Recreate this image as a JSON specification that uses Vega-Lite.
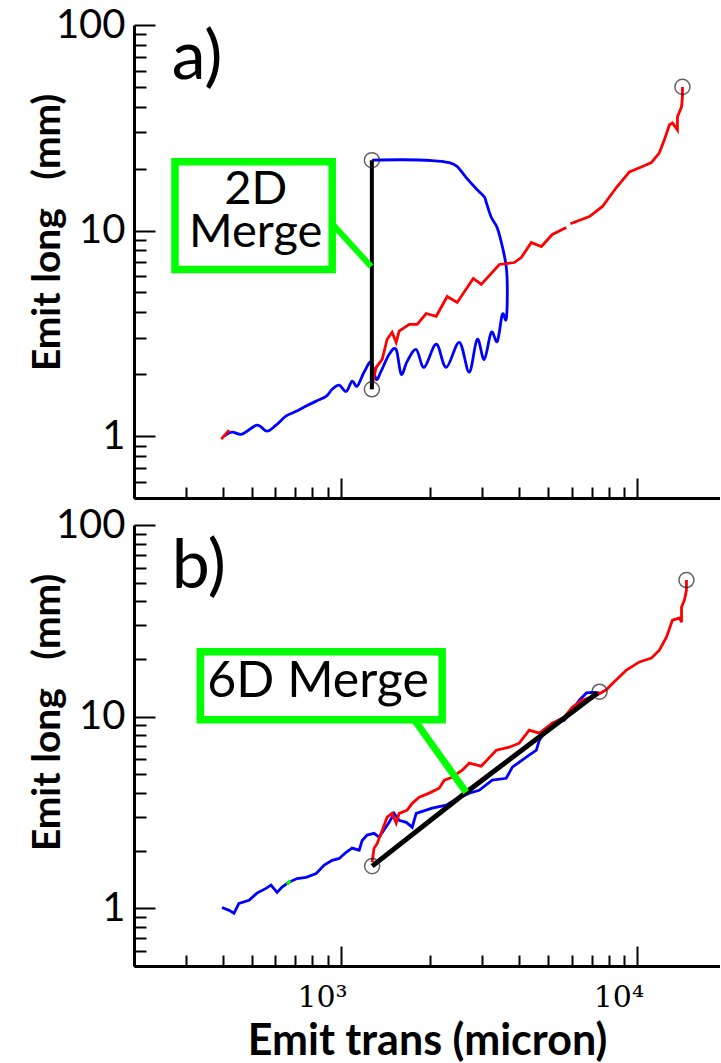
{
  "$schema": "https://vega.github.io/schema/vega-lite/v6.json",
  "padding": {"left": 28, "top": 5, "right": 0, "bottom": 0},
  "background": "white",
  "config": {
    "view": {"stroke": null},
    "concat": {"spacing": 27},
    "axis": {"grid": false, "domainColor": "black", "domainWidth": 3, "tickColor": "black", "tickWidth": 2, "labelOverlap": false, "labelFlush": false, "labelBound": false, "labelColor": "black", "titleColor": "black"}
  },
  "bounds": "flush",
  "datasets": {
    "a_blue": [
      {"o":1,"x":402.7,"y":1.0},{"o":2,"x":428.5,"y":1.046},{"o":3,"x":463,"y":1.023},{"o":4,"x":520,"y":1.13},{"o":5,"x":562,"y":1.057},{"o":6,"x":603,"y":1.13},{"o":7,"x":651,"y":1.25},{"o":8,"x":705,"y":1.32},{"o":9,"x":762,"y":1.40},{"o":10,"x":824,"y":1.48},{"o":11,"x":890,"y":1.56},{"o":12,"x":933,"y":1.69},{"o":13,"x":985,"y":1.77},{"o":14,"x":1040,"y":1.65},{"o":15,"x":1089,"y":1.85},{"o":16,"x":1133,"y":1.75},{"o":17,"x":1196,"y":2.05},{"o":18,"x":1263,"y":2.29},{"o":19,"x":1313,"y":1.89},{"o":20,"x":1365,"y":2.07},{"o":21,"x":1453,"y":2.50},{"o":22,"x":1534,"y":2.64},{"o":23,"x":1595,"y":2.00},{"o":24,"x":1671,"y":2.31},{"o":25,"x":1792,"y":2.64},{"o":26,"x":1907,"y":2.16},{"o":27,"x":2094,"y":2.80},{"o":28,"x":2264,"y":2.16},{"o":29,"x":2505,"y":2.86},{"o":30,"x":2706,"y":2.05},{"o":31,"x":2879,"y":2.96},{"o":32,"x":3041,"y":2.36},{"o":33,"x":3212,"y":3.20},{"o":34,"x":3366,"y":2.89},{"o":35,"x":3500,"y":3.91},{"o":36,"x":3607,"y":3.70},{"o":37,"x":3639,"y":5.17},{"o":38,"x":3607,"y":6.69},{"o":39,"x":3500,"y":8.37},{"o":40,"x":3366,"y":10.3},{"o":41,"x":3212,"y":11.6},{"o":42,"x":3090,"y":13.7},{"o":43,"x":3041,"y":14.6},{"o":44,"x":2879,"y":15.8},{"o":45,"x":2644,"y":18.1},{"o":46,"x":2465,"y":20.5},{"o":47,"x":2317,"y":21.4},{"o":48,"x":2029,"y":21.9},{"o":49,"x":1607,"y":22.1},{"o":50,"x":1273,"y":22.0}
    ],
    "a_red": [
      {"seg":0,"o":1,"x":394,"y":0.967},{"seg":0,"o":2,"x":419,"y":1.07},
      {"seg":1,"o":3,"x":1263,"y":1.69},{"seg":1,"o":4,"x":1313,"y":2.16},{"seg":1,"o":5,"x":1376,"y":2.36},{"seg":1,"o":6,"x":1430,"y":2.96},{"seg":1,"o":7,"x":1486,"y":3.20},{"seg":1,"o":8,"x":1534,"y":2.86},{"seg":1,"o":9,"x":1570,"y":3.24},{"seg":1,"o":10,"x":1698,"y":3.50},{"seg":1,"o":11,"x":1806,"y":3.50},{"seg":1,"o":12,"x":1937,"y":3.95},{"seg":1,"o":13,"x":2094,"y":3.83},{"seg":1,"o":14,"x":2280,"y":4.78},{"seg":1,"o":15,"x":2465,"y":4.47},{"seg":1,"o":16,"x":2793,"y":5.85},{"seg":1,"o":17,"x":2972,"y":5.47},{"seg":1,"o":18,"x":3420,"y":6.84},{"seg":1,"o":19,"x":3841,"y":6.99},{"seg":1,"o":20,"x":4055,"y":7.39},{"seg":1,"o":21,"x":4385,"y":8.74},{"seg":1,"o":22,"x":4742,"y":8.36},{"seg":1,"o":23,"x":5163,"y":9.57},{"seg":1,"o":24,"x":5754,"y":10.34},
      {"seg":2,"o":25,"x":5940,"y":10.8},{"seg":2,"o":26,"x":6887,"y":11.7},{"seg":2,"o":27,"x":7621,"y":13.1},{"seg":2,"o":28,"x":8492,"y":16.2},{"seg":2,"o":29,"x":9397,"y":19.3},{"seg":2,"o":30,"x":10400,"y":20.5},{"seg":2,"o":31,"x":11150,"y":21.4},{"seg":2,"o":32,"x":11860,"y":23.9},{"seg":2,"o":33,"x":12340,"y":27.7},{"seg":2,"o":34,"x":12830,"y":32.7},{"seg":2,"o":35,"x":13130,"y":33.4},{"seg":2,"o":36,"x":13650,"y":30.9},{"seg":2,"o":37,"x":13650,"y":35.8},{"seg":2,"o":38,"x":14090,"y":40.0},{"seg":2,"o":39,"x":14190,"y":44.7},{"seg":2,"o":40,"x":14190,"y":50.0}
    ],
    "a_merge": [{"o":1,"x":1270,"y":1.69},{"o":2,"x":1270,"y":22.0}],
    "a_circ": [{"x":1270,"y":1.69},{"x":1270,"y":22.0},{"x":14190,"y":50.0}],
    "a_box": [{"x":275,"x2":933,"y":21.6,"y2":6.47}],
    "a_ptr": [{"o":1,"x":933,"y":10.8},{"o":2,"x":1263,"y":6.68}],
    "a_boxtext": [{"x":515,"y":13.4,"t":"2D"},{"x":515,"y":8.36,"t":"Merge"}],
    "a_tag": [{"x":268,"y":54.7,"t":"a)"}],
    "b_blue": [
      {"o":1,"x":396,"y":1.01},{"o":2,"x":419,"y":0.976},{"o":3,"x":435,"y":0.942},{"o":4,"x":452,"y":1.06},{"o":5,"x":489,"y":1.10},{"o":6,"x":520,"y":1.20},{"o":7,"x":558,"y":1.27},{"o":8,"x":580,"y":1.32},{"o":9,"x":608,"y":1.21},{"o":10,"x":632,"y":1.29},{"o":11,"x":667,"y":1.37},{"o":12,"x":710,"y":1.43},{"o":13,"x":762,"y":1.45},{"o":14,"x":824,"y":1.52},{"o":15,"x":877,"y":1.68},{"o":16,"x":933,"y":1.78},{"o":17,"x":985,"y":1.82},{"o":18,"x":1040,"y":1.96},{"o":19,"x":1089,"y":2.06},{"o":20,"x":1151,"y":2.01},{"o":21,"x":1178,"y":2.26},{"o":22,"x":1224,"y":2.41},{"o":23,"x":1292,"y":2.46},{"o":24,"x":1343,"y":2.35},{"o":25,"x":1453,"y":2.81},{"o":26,"x":1510,"y":3.13},{"o":27,"x":1570,"y":2.88},{"o":28,"x":1660,"y":2.81},{"o":29,"x":1738,"y":2.65},{"o":30,"x":1792,"y":3.13},{"o":31,"x":2029,"y":3.33},{"o":32,"x":2264,"y":3.45},{"o":33,"x":2410,"y":3.66},{"o":34,"x":2706,"y":3.99},{"o":35,"x":2924,"y":4.13},{"o":36,"x":3236,"y":4.66},{"o":37,"x":3607,"y":4.77},{"o":38,"x":3784,"y":5.45},{"o":39,"x":4217,"y":6.15},{"o":40,"x":4560,"y":6.68},{"o":41,"x":4667,"y":7.54},{"o":42,"x":4932,"y":8.51},{"o":43,"x":5163,"y":9.25},{"o":44,"x":5662,"y":9.59},{"o":45,"x":6026,"y":10.8},{"o":46,"x":6368,"y":12.2},{"o":47,"x":6730,"y":13.3},{"o":48,"x":7047,"y":13.4},{"o":49,"x":7447,"y":13.3}
    ],
    "b_red": [
      {"o":1,"x":1273,"y":1.74},{"o":2,"x":1292,"y":2.06},{"o":3,"x":1324,"y":2.18},{"o":4,"x":1376,"y":2.55},{"o":5,"x":1430,"y":2.99},{"o":6,"x":1486,"y":3.13},{"o":7,"x":1534,"y":2.78},{"o":8,"x":1570,"y":3.13},{"o":9,"x":1671,"y":3.25},{"o":10,"x":1738,"y":3.53},{"o":11,"x":1835,"y":3.80},{"o":12,"x":1983,"y":3.99},{"o":13,"x":2143,"y":4.23},{"o":14,"x":2229,"y":4.66},{"o":15,"x":2371,"y":4.83},{"o":16,"x":2563,"y":5.26},{"o":17,"x":2706,"y":5.72},{"o":18,"x":2972,"y":5.52},{"o":19,"x":3340,"y":6.68},{"o":20,"x":3696,"y":6.93},{"o":21,"x":3992,"y":7.27},{"o":22,"x":4315,"y":8.51},{"o":23,"x":4667,"y":8.20},{"o":24,"x":5163,"y":9.25},{"o":25,"x":5662,"y":9.94},{"o":26,"x":6026,"y":11.2},{"o":27,"x":6516,"y":12.2},{"o":28,"x":7266,"y":12.9},{"o":29,"x":7852,"y":13.8},{"o":30,"x":8240,"y":14.9},{"o":31,"x":9183,"y":17.5},{"o":32,"x":10160,"y":19.3},{"o":33,"x":11150,"y":20.2},{"o":34,"x":11860,"y":22.2},{"o":35,"x":12530,"y":26.0},{"o":36,"x":13130,"y":31.9},{"o":37,"x":13870,"y":32.7},{"o":38,"x":14090,"y":31.1},{"o":39,"x":14090,"y":37.3},{"o":40,"x":14410,"y":40.6},{"o":41,"x":14640,"y":45.8},{"o":42,"x":14640,"y":51.6}
    ],
    "b_merge": [{"o":1,"x":1273,"y":1.66},{"o":2,"x":2644,"y":4.03},{"o":3,"x":7328,"y":13.3}],
    "b_circ": [{"x":1273,"y":1.66},{"x":7450,"y":13.5},{"x":14640,"y":51.6}],
    "b_green": [{"o":1,"x":658,"y":1.33},{"o":2,"x":673,"y":1.40}],
    "b_box": [{"x":335,"x2":2193,"y":21.8,"y2":9.64}],
    "b_ptr": [{"o":1,"x":1766,"y":9.64},{"o":2,"x":2642,"y":4.03}],
    "b_boxtext": [{"x":836,"y":12.7,"t":"6D Merge"}],
    "b_tag": [{"x":268,"y":46.9,"t":"b)"}]
  },
  "vconcat": [
    {
      "width": 586,
      "height": 473,
      "encoding": {
        "x": {"field": "x", "type": "quantitative",
          "scale": {"type": "log", "domain": [200, 19000], "nice": false},
          "axis": {"values": [200,300,400,500,600,700,800,900,1000,2000,3000,4000,5000,6000,7000,8000,9000,10000],
            "labels": false, "title": null,
            "tickSize": {"condition": {"test": "datum.value == 1000 || datum.value == 10000", "value": -20}, "value": -11}}},
        "y": {"field": "y", "type": "quantitative",
          "scale": {"type": "log", "domain": [0.5, 100], "nice": false},
          "axis": {"values": [0.5,0.6,0.7,0.8,0.9,1,2,3,4,5,6,7,8,9,10,20,30,40,50,60,70,80,90,100],
            "labelExpr": "datum.value == 1 ? '1' : datum.value == 10 ? '10' : datum.value == 100 ? '100' : ''",
            "tickSize": {"condition": {"test": "datum.value == 1 || datum.value == 10 || datum.value == 100", "value": -21}, "value": -12},
            "labelFont": "Lato", "labelFontSize": 40, "labelPadding": 30,
            "title": "Emit long\u00a0\u00a0\u00a0(mm)", "titleFont": "Lato", "titleFontSize": 39, "titleFontWeight": "bold",
            "titleX": -67, "titleY": 207, "titleBaseline": "bottom", "titleAngle": -90, "titleAlign": "center"}}
      },
      "layer": [
        {"data": {"name": "a_blue"}, "mark": {"type": "line", "color": "#0000ff", "strokeWidth": 2.8, "interpolate": "cardinal"}, "encoding": {"order": {"field": "o", "type": "quantitative"}}},
        {"data": {"name": "a_red"}, "mark": {"type": "line", "color": "#ff0000", "strokeWidth": 2.8}, "encoding": {"order": {"field": "o", "type": "quantitative"}, "detail": {"field": "seg", "type": "nominal"}}},
        {"data": {"name": "a_merge"}, "mark": {"type": "line", "color": "black", "strokeWidth": 4}, "encoding": {"order": {"field": "o", "type": "quantitative"}}},
        {"data": {"name": "a_ptr"}, "mark": {"type": "line", "color": "#00ff00", "strokeWidth": 6}, "encoding": {"order": {"field": "o", "type": "quantitative"}}},
        {"data": {"name": "a_box"}, "mark": {"type": "rect", "fill": "white", "stroke": "#00ff00", "strokeWidth": 7.5}, "encoding": {"x2": {"field": "x2"}, "y2": {"field": "y2"}}},
        {"data": {"name": "a_boxtext"}, "mark": {"type": "text", "font": "Lato", "fontSize": 47, "align": "center", "baseline": "alphabetic", "color": "black"}, "encoding": {"text": {"field": "t"}}},
        {"data": {"name": "a_tag"}, "mark": {"type": "text", "font": "Lato", "fontSize": 68, "align": "left", "baseline": "alphabetic", "color": "black"}, "encoding": {"text": {"field": "t"}}},
        {"data": {"name": "a_circ"}, "mark": {"type": "point", "shape": "circle", "filled": false, "size": 227, "stroke": "#222222", "strokeWidth": 1.5}}
      ]
    },
    {
      "width": 586,
      "height": 441,
      "encoding": {
        "x": {"field": "x", "type": "quantitative",
          "scale": {"type": "log", "domain": [200, 19000], "nice": false},
          "axis": {"values": [200,300,400,500,600,700,800,900,1000,2000,3000,4000,5000,6000,7000,8000,9000,10000],
            "labelExpr": "datum.value == 1000 ? '10³' : datum.value == 10000 ? '10⁴' : ''",
            "labelFont": "DejaVu Serif", "labelFontSize": 30, "labelAlign": "right", "labelOffset": 6, "labelPadding": 36,
            "tickSize": {"condition": {"test": "datum.value == 1000 || datum.value == 10000", "value": -20}, "value": -11},
            "title": "Emit trans (micron)", "titleFont": "Lato", "titleFontSize": 43, "titleFontWeight": "bold",
            "titleY": 88, "titleBaseline": "alphabetic"}},
        "y": {"field": "y", "type": "quantitative",
          "scale": {"type": "log", "domain": [0.5, 100], "nice": false},
          "axis": {"values": [0.5,0.6,0.7,0.8,0.9,1,2,3,4,5,6,7,8,9,10,20,30,40,50,60,70,80,90,100],
            "labelExpr": "datum.value == 1 ? '1' : datum.value == 10 ? '10' : datum.value == 100 ? '100' : ''",
            "tickSize": {"condition": {"test": "datum.value == 1 || datum.value == 10 || datum.value == 100", "value": -21}, "value": -12},
            "labelFont": "Lato", "labelFontSize": 40, "labelPadding": 30,
            "title": "Emit long\u00a0\u00a0\u00a0(mm)", "titleFont": "Lato", "titleFontSize": 39, "titleFontWeight": "bold",
            "titleX": -67, "titleY": 187, "titleBaseline": "bottom", "titleAngle": -90, "titleAlign": "center"}}
      },
      "layer": [
        {"data": {"name": "b_blue"}, "mark": {"type": "line", "color": "#0000ff", "strokeWidth": 2.8}, "encoding": {"order": {"field": "o", "type": "quantitative"}}},
        {"data": {"name": "b_green"}, "mark": {"type": "line", "color": "#00ff00", "strokeWidth": 3}, "encoding": {"order": {"field": "o", "type": "quantitative"}}},
        {"data": {"name": "b_red"}, "mark": {"type": "line", "color": "#ff0000", "strokeWidth": 2.8}, "encoding": {"order": {"field": "o", "type": "quantitative"}}},
        {"data": {"name": "b_merge"}, "mark": {"type": "line", "color": "black", "strokeWidth": 5}, "encoding": {"order": {"field": "o", "type": "quantitative"}}},
        {"data": {"name": "b_ptr"}, "mark": {"type": "line", "color": "#00ff00", "strokeWidth": 7}, "encoding": {"order": {"field": "o", "type": "quantitative"}}},
        {"data": {"name": "b_box"}, "mark": {"type": "rect", "fill": "white", "stroke": "#00ff00", "strokeWidth": 7.5}, "encoding": {"x2": {"field": "x2"}, "y2": {"field": "y2"}}},
        {"data": {"name": "b_boxtext"}, "mark": {"type": "text", "font": "Lato", "fontSize": 50, "align": "center", "baseline": "alphabetic", "color": "black"}, "encoding": {"text": {"field": "t"}}},
        {"data": {"name": "b_tag"}, "mark": {"type": "text", "font": "Lato", "fontSize": 68, "align": "left", "baseline": "alphabetic", "color": "black"}, "encoding": {"text": {"field": "t"}}},
        {"data": {"name": "b_circ"}, "mark": {"type": "point", "shape": "circle", "filled": false, "size": 227, "stroke": "#222222", "strokeWidth": 1.5}}
      ]
    }
  ]
}
